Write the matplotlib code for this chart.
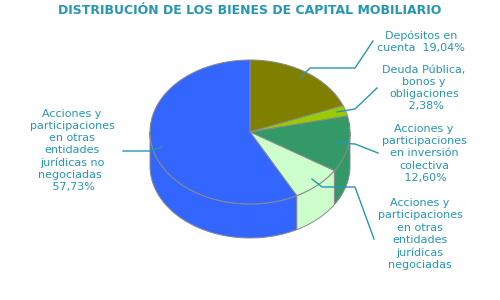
import numpy as np
import matplotlib
matplotlib.use("Agg")
import matplotlib.pyplot as plt
from matplotlib.patches import Polygon

# Slice data (clockwise from 12 o'clock)
categories = [
    "Depósitos en\ncuenta  19,04%",
    "Deuda Pública,\nbonos y\nobligaciones\n 2,38%",
    "Acciones y\nparticipaciones\nen inversión\ncolectiva\n 12,60%",
    "Acciones y\nparticipaciones\nen otras\nentidades\njurídicas\nnegociadas",
    "Acciones y\nparticipaciones\nen otras\nentidades\njurídicas no\nnegociadas \n 57,73%",
]
values = [19.04, 2.38, 12.60, 8.25, 57.73]
colors = ["#808000", "#99CC00", "#339966", "#CCFFCC", "#3366FF"]

title = "DISTRIBUCIÓN DE LOS BIENES DE CAPITAL MOBILIARIO"
text_color = "#2596b3"
edge_color = "#8a8a8a"

fig = plt.figure(figsize=(5, 3), dpi=100)
ax = fig.add_axes([0, 0, 1, 1])
ax.set_xlim(0, 500)
ax.set_ylim(300, 0)
ax.axis("off")

cx, cy, rx, ry, depth = 250, 132, 100, 72, 34


def pt(t_deg, dz=0.0):
    t = np.radians(t_deg)
    return cx + rx * np.cos(t), cy - ry * np.sin(t) + dz


total = sum(values)
bounds = [90.0]
for v in values:
    bounds.append(bounds[-1] - 360.0 * v / total)

# Side walls (front half of the cylinder)
for i, col in enumerate(colors):
    t1, t2 = bounds[i], bounds[i + 1]  # t1 > t2
    for shift in (0, 360, -360):
        a, b = t1 + shift, t2 + shift
        lo, hi = max(b, -180), min(a, 0)
        if hi > lo:
            ts = np.linspace(hi, lo, 80)
            top = [pt(t) for t in ts]
            bot = [pt(t, depth) for t in ts[::-1]]
            ax.add_patch(Polygon(top + bot, closed=True, facecolor=col,
                                 edgecolor=edge_color, lw=0.7, zorder=2))

# Top faces
for i, col in enumerate(colors):
    t1, t2 = bounds[i], bounds[i + 1]
    ts = np.linspace(t1, t2, 120)
    poly = [(cx, cy)] + [pt(t) for t in ts]
    ax.add_patch(Polygon(poly, closed=True, facecolor=col,
                         edgecolor=edge_color, lw=0.7, zorder=3))

# Leader lines and labels
leaders = [
    [(300, 78), (310, 68), (355, 68), (373, 41)],
    [(337, 112), (355, 109), (377, 88)],
    [(337, 143), (355, 144), (378, 153)],
    [(312, 179), (322, 187), (355, 187), (374, 239)],
    [(162, 147), (150, 151), (123, 151)],
]
label_pos = [(421, 41.5), (424, 88), (424, 153.5), (420, 234), (72, 150.5)]

for path, (lx, ly), txt in zip(leaders, label_pos, categories):
    xs, ys = zip(*path)
    ax.plot(xs, ys, color=text_color, lw=1.0, zorder=5)
    ax.text(lx, ly, txt, ha="center", va="center", color=text_color,
            fontsize=8.0, linespacing=1.27, family="DejaVu Sans", zorder=6)

ax.text(250, 10, title, ha="center", va="center", color=text_color,
        fontsize=9.0, fontweight="bold", family="DejaVu Sans")

fig.savefig("out.png", dpi=100)
